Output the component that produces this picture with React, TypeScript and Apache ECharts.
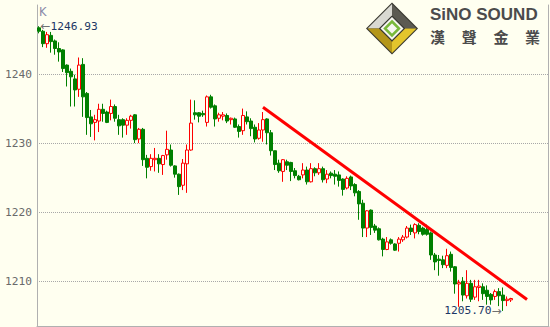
import React, { useEffect, useRef } from "react";
import * as echarts from "echarts";

// OHLC per bar (index 0 = oldest)
const opens = [
  1246.7, 1246.2, 1244.4, 1245.6, 1244.8, 1243.7, 1243.5, 1241.3, 1240.4, 1239.3,
  1237.8, 1241.4, 1237.2, 1233.8, 1233.0, 1233.2, 1234.9, 1234.5, 1234.3, 1235.3,
  1233.4, 1233.4, 1232.6, 1233.3, 1234.1, 1230.6, 1232.0, 1227.8, 1226.6, 1227.6,
  1227.8, 1226.9, 1228.3, 1229.0, 1226.7, 1225.5, 1223.9, 1227.0, 1229.0, 1234.4,
  1234.4, 1234.3, 1233.0, 1236.7, 1235.4, 1233.6, 1233.9, 1234.0, 1233.4, 1233.5,
  1232.4, 1231.8, 1233.8, 1233.2, 1232.3, 1230.7, 1231.9, 1233.5, 1231.5, 1228.9,
  1227.1, 1225.9, 1227.3, 1227.2, 1226.0, 1225.2, 1225.4, 1226.1, 1224.4, 1226.3,
  1225.7, 1226.3, 1224.8, 1225.65, 1225.5, 1225.4, 1224.8, 1223.5, 1225.1, 1224.0,
  1223.0, 1221.3, 1217.7, 1220.3, 1218.0, 1217.6, 1216.1, 1214.6, 1216.0, 1215.4,
  1215.5, 1216.0, 1216.4, 1217.7, 1217.0, 1218.1, 1217.7, 1217.5, 1217.0, 1213.8,
  1213.2, 1213.1, 1212.3, 1213.9, 1212.1, 1209.6, 1210.0, 1207.9, 1209.7, 1207.7,
  1209.1, 1209.2, 1208.7, 1208.1, 1207.8, 1208.5, 1208.0, 1207.2, 1207.3,
];

const closes = [
  1246.2, 1244.4, 1245.7, 1244.7, 1243.7, 1243.2, 1240.8, 1240.2, 1239.6, 1237.7,
  1241.3, 1236.7, 1233.7, 1232.8, 1233.4, 1234.9, 1234.3, 1233.0, 1235.3, 1233.6,
  1232.5, 1232.6, 1233.3, 1233.9, 1230.5, 1232.0, 1227.6, 1226.5, 1227.8, 1227.8,
  1227.0, 1228.2, 1229.1, 1226.8, 1225.5, 1223.7, 1227.1, 1229.0, 1232.9, 1234.1,
  1233.9, 1234.1, 1236.7, 1235.2, 1233.5, 1234.1, 1234.1, 1233.2, 1233.6, 1232.3,
  1231.7, 1234.0, 1233.1, 1232.1, 1230.6, 1231.9, 1233.4, 1231.5, 1228.9, 1226.9,
  1226.0, 1227.6, 1226.8, 1225.9, 1225.3, 1224.7, 1226.1, 1224.4, 1226.3, 1225.7,
  1226.3, 1224.7, 1225.5, 1225.3, 1225.2, 1224.6, 1223.3, 1224.9, 1223.8, 1222.8,
  1221.2, 1217.7, 1220.2, 1217.8, 1217.4, 1216.0, 1214.6, 1215.7, 1215.5, 1214.5,
  1216.1, 1216.4, 1217.7, 1217.2, 1218.2, 1217.2, 1216.8, 1216.8, 1213.8, 1212.8,
  1213.0, 1212.4, 1213.7, 1212.0, 1209.6, 1209.8, 1208.0, 1209.7, 1207.4, 1209.2,
  1209.3, 1208.2, 1207.8, 1207.3, 1208.5, 1207.9, 1207.2, 1207.4, 1207.5,
];

const lows = [
  1245.9, 1243.9, 1243.8, 1243.1, 1242.8, 1241.8, 1240.3, 1238.2, 1235.3, 1235.3,
  1236.7, 1233.8, 1231.2, 1230.9, 1230.4, 1231.6, 1233.1, 1232.9, 1233.3, 1233.1,
  1231.2, 1230.8, 1231.2, 1232.1, 1230.0, 1230.0, 1226.7, 1224.9, 1226.0, 1225.9,
  1225.7, 1225.4, 1227.6, 1226.6, 1225.0, 1222.5, 1223.2, 1222.8, 1228.9, 1233.4,
  1233.0, 1233.8, 1232.4, 1235.0, 1232.4, 1233.1, 1233.3, 1232.9, 1232.7, 1232.2,
  1230.8, 1231.2, 1232.7, 1231.0, 1230.1, 1230.5, 1230.2, 1229.8, 1228.2, 1226.1,
  1225.7, 1224.4, 1226.1, 1224.5, 1224.9, 1224.6, 1224.9, 1224.0, 1224.3, 1225.2,
  1225.4, 1224.3, 1224.2, 1224.9, 1224.0, 1223.7, 1222.4, 1223.3, 1223.2, 1222.3,
  1218.9, 1216.4, 1216.4, 1216.7, 1217.0, 1215.9, 1213.6, 1214.5, 1215.3, 1214.4,
  1214.3, 1215.7, 1216.2, 1216.7, 1216.2, 1216.8, 1216.6, 1216.6, 1213.1, 1211.6,
  1210.8, 1211.9, 1211.9, 1211.4, 1208.2, 1206.3, 1207.1, 1207.5, 1207.0, 1207.3,
  1207.1, 1207.3, 1206.6, 1206.6, 1207.3, 1206.4, 1205.7, 1206.4, 1207.0,
];

const highs = [
  1246.93, 1246.4, 1246.1, 1246.1, 1245.0, 1244.6, 1243.6, 1241.4, 1240.8, 1239.9,
  1242.4, 1242.3, 1237.4, 1234.8, 1234.1, 1235.7, 1235.7, 1234.7, 1236.3, 1235.6,
  1234.1, 1233.6, 1233.6, 1234.1, 1234.2, 1232.2, 1232.2, 1228.3, 1228.4, 1229.3,
  1228.4, 1228.3, 1231.8, 1229.8, 1226.8, 1225.6, 1227.7, 1229.8, 1236.3, 1236.2,
  1234.5, 1234.7, 1236.9, 1237.0, 1235.6, 1234.4, 1234.5, 1234.3, 1233.7, 1233.7,
  1232.7, 1235.0, 1234.6, 1233.6, 1232.7, 1232.9, 1234.5, 1233.6, 1231.9, 1228.9,
  1227.6, 1227.7, 1227.6, 1227.3, 1226.4, 1225.4, 1227.1, 1226.6, 1227.1, 1226.5,
  1227.1, 1226.6, 1226.1, 1225.9, 1226.1, 1225.9, 1224.9, 1225.2, 1225.3, 1224.2,
  1223.2, 1221.8, 1220.3, 1220.4, 1218.3, 1217.8, 1216.3, 1216.4, 1216.2, 1215.5,
  1216.4, 1216.7, 1218.0, 1218.2, 1218.4, 1218.4, 1217.9, 1218.2, 1217.2, 1214.1,
  1213.8, 1213.7, 1214.7, 1214.3, 1212.2, 1210.2, 1210.6, 1211.6, 1210.2, 1210.2,
  1210.2, 1209.7, 1209.4, 1208.3, 1208.8, 1209.0, 1209.1, 1207.8, 1207.6,
];

// x slots: bars plus empty room on the right
const slotCount = 128;
const categories = Array.from({ length: slotCount }, (_, i) => String(i + 1));

// price axis
const yTickLabels = [1210, 1220, 1230, 1240];
const yMin = 1203.52;
const yMax = 1250;

// resistance line drawn over the bars: [slot index, price]
const trendStart = [56, 1235.19];
const trendEnd = [122, 1207.36];

const BG = "#fffff0";
const MONO = "DejaVu Sans Mono";

export default function App() {
  const ref = useRef<HTMLDivElement>(null);

  useEffect(() => {
    if (!ref.current) return;
    const chart = echarts.init(ref.current, null, { renderer: "svg" });

    const ohlc = opens.map((o, i) => [o, closes[i], lows[i], highs[i]]);

    const cx = 392;
    const cy = 28.5;
    const dia = (r: number) => [
      [cx, cy - r],
      [cx + r, cy],
      [cx, cy + r],
      [cx - r, cy],
    ];
    const facet = (pts: number[][], fill: string) => ({
      type: "polygon",
      shape: { points: pts },
      style: { fill },
      silent: true,
    });
    const R = 24.5;
    const r = 13;

    chart.setOption({
      animation: false,
      backgroundColor: BG,
      grid: { left: 37, right: 1, top: 5, bottom: 1, containLabel: false },
      xAxis: {
        type: "category",
        data: categories,
        boundaryGap: true,
        axisLine: { show: true, lineStyle: { color: "#b0b0b0", width: 1 } },
        axisTick: { show: false },
        axisLabel: { show: false },
        splitLine: { show: false },
      },
      yAxis: [
        {
          type: "value",
          min: yMin,
          max: yMax,
          scale: true,
          axisLine: { show: true, lineStyle: { color: "#b0b0b0", width: 1 } },
          axisTick: { show: false },
          axisLabel: {
            show: true,
            margin: 5,
            color: "#6a6a6a",
            fontFamily: MONO,
            fontSize: 11.2,
            showMinLabel: false,
            showMaxLabel: false,
            formatter: (v: number) =>
              yTickLabels.indexOf(Math.round(v)) >= 0 && Math.abs(v - Math.round(v)) < 1e-6
                ? String(Math.round(v))
                : "",
          },
          splitLine: {
            show: true,
            showMinLine: false,
            showMaxLine: false,
            lineStyle: { color: "#a8a8a8", type: [1, 1], width: 1 },
          },
        },
        {
          type: "value",
          position: "right",
          min: yMin,
          max: yMax,
          offset: -1,
          axisLine: { show: true, lineStyle: { color: "#b0b0b0", width: 1 } },
          axisTick: { show: false },
          axisLabel: { show: false },
          splitLine: { show: false },
        },
      ],
      series: [
        {
          type: "candlestick",
          data: ohlc,
          barWidth: 3,
          itemStyle: {
            color: BG,
            borderColor: "#ff0000",
            color0: "#008000",
            borderColor0: "#008000",
            borderWidth: 1,
          },
          markPoint: {
            symbol: "circle",
            symbolSize: 1,
            itemStyle: { color: "rgba(0,0,0,0)" },
            silent: true,
            data: [
              {
                type: "max",
                valueDim: "highest",
                label: {
                  show: true,
                  position: "right",
                  distance: 1,
                  formatter: (p: any) => `{a|←}{b|${Number(p.value).toFixed(2)}}`,
                  rich: {
                    a: { fontFamily: "DejaVu Sans", fontSize: 12, color: "#707070" },
                    b: { fontFamily: MONO, fontSize: 11.2, color: "#1c3764" },
                  },
                },
              },
              {
                type: "min",
                valueDim: "lowest",
                label: {
                  show: true,
                  position: "left",
                  distance: 1,
                  formatter: (p: any) => `{b|${Number(p.value).toFixed(2)}}{a|→}`,
                  rich: {
                    a: { fontFamily: "DejaVu Sans", fontSize: 12, color: "#707070" },
                    b: { fontFamily: MONO, fontSize: 11.2, color: "#1c3764" },
                  },
                },
              },
            ],
          },
          markLine: {
            silent: true,
            symbol: ["none", "none"],
            label: { show: false },
            lineStyle: { color: "#ff0000", width: 3, type: "solid" },
            data: [[{ coord: trendStart }, { coord: trendEnd }]],
          },
        },
      ],
      graphic: [
        {
          type: "text",
          left: 39,
          top: 6,
          silent: true,
          style: { text: "K", fill: "#8a8aa8", font: "11.5px 'DejaVu Sans'" },
        },
        {
          type: "group",
          silent: true,
          children: [
            facet(dia(R + 1.5), "#35342c"),
            // bevel facets
            facet([[cx, cy - R], [cx, cy - r], [cx - r, cy], [cx - R, cy]], "#d9d9d2"),
            facet([[cx, cy - R], [cx + R, cy], [cx + r, cy], [cx, cy - r]], "#5b5a52"),
            facet([[cx + R, cy], [cx, cy + R], [cx, cy + r], [cx + r, cy]], "#e3c52c"),
            facet([[cx - R, cy], [cx, cy + R], [cx, cy + r], [cx - r, cy]], "#b4961a"),
            facet(dia(r), "#3a3a34"),
            facet(dia(r - 1.5), "#f6f6f0"),
            {
              type: "polygon",
              shape: { points: dia(7) },
              style: { fill: "none", stroke: "#78b83a", lineWidth: 2.5 },
            },
          ],
        },
        {
          type: "text",
          x: 430,
          y: 14.5,
          silent: true,
          style: {
            text: "SiNO SOUND",
            fill: "#4b4b4b",
            font: "bold 17px 'Liberation Sans'",
            verticalAlign: "middle",
          },
        },
        ...["漢", "聲", "金", "業"].map((ch, i) => ({
          type: "text",
          x: 430 + i * 31.7,
          y: 36,
          silent: true,
          style: {
            text: ch,
            fill: "#4b4b4b",
            font: "bold 15px 'Noto Sans CJK TC'",
            verticalAlign: "middle",
          },
        })),
      ],
    });

    return () => chart.dispose();
  }, []);

  return (
    <div
      ref={ref}
      style={{ position: "fixed", left: 0, top: 0, width: 550, height: 327 }}
    />
  );
}
